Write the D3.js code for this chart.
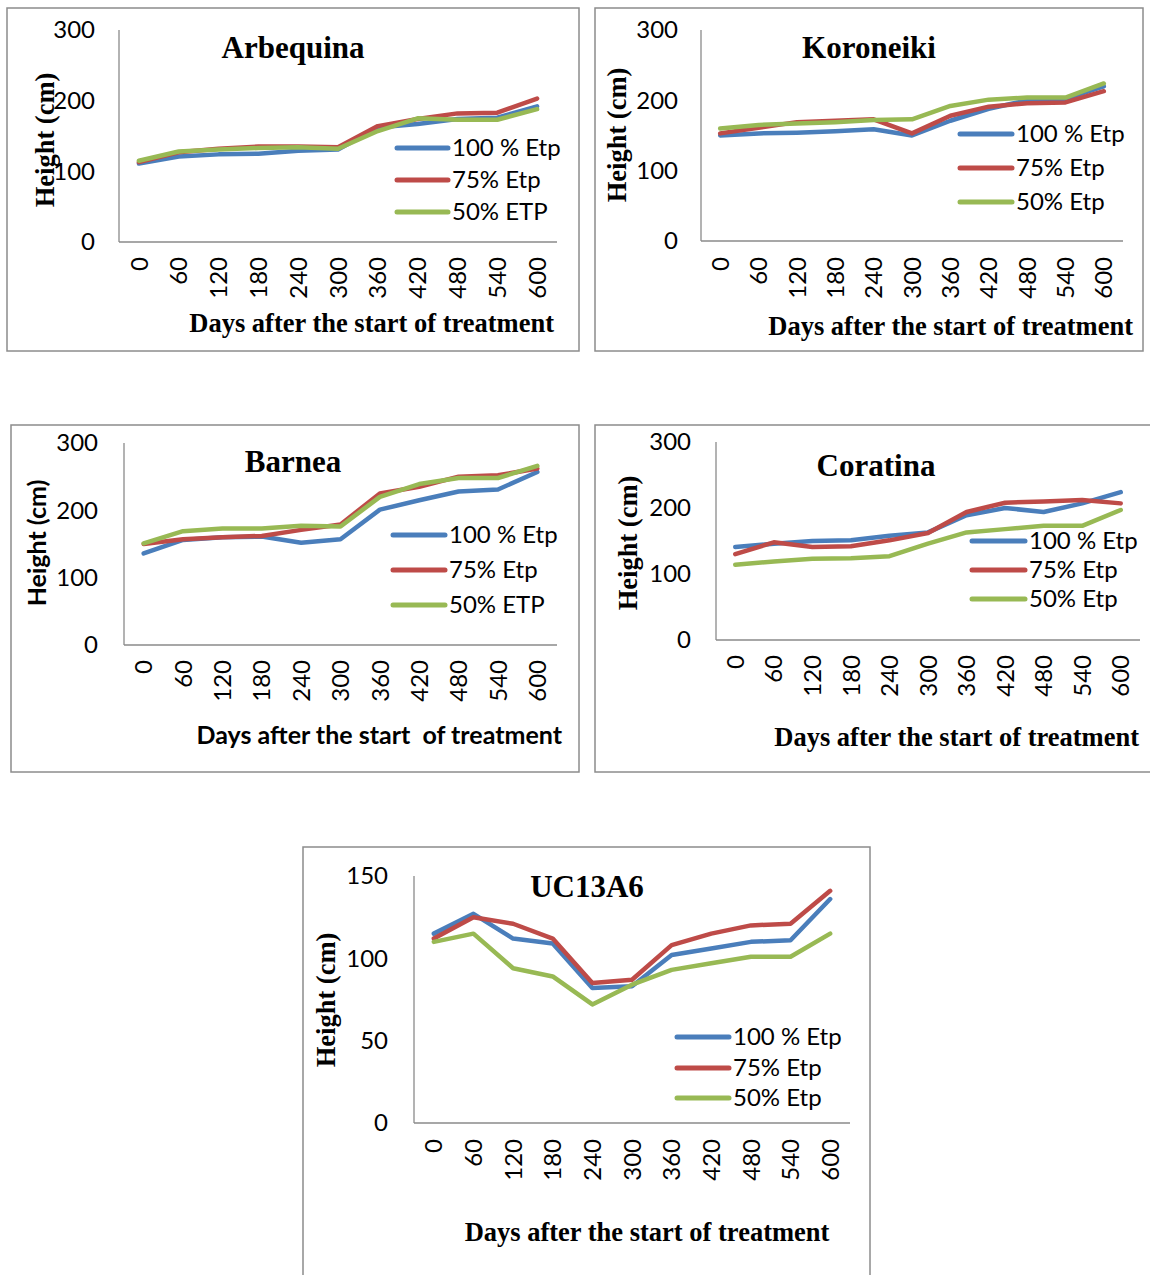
<!DOCTYPE html>
<html><head><meta charset="utf-8">
<script src="https://cdn.jsdelivr.net/npm/d3@7"></script>
<style>
html,body{margin:0;padding:0;background:#fff;}
svg{display:block;}
</style>
</head><body>
<svg id="c" width="1150" height="1275"></svg>
<script>
// ---- DATA ----
const days = ["0","60","120","180","240","300","360","420","480","540","600"];
const seriesColors = ["#4A7EBB", "#BE4B48", "#98B954"];

const arbequinaNames = ["100 % Etp", "75% Etp", "50% ETP"];
const arbequina100 = [111, 121, 124, 125, 129, 131, 162, 167, 174, 176, 192];
const arbequina75  = [113, 127, 132, 135, 135, 134, 164, 174, 182, 183, 203];
const arbequina50  = [115, 128, 131, 133, 134, 132, 157, 175, 173, 173, 188];

const koroneikiNames = ["100 % Etp", "75% Etp", "50% Etp"];
const koroneiki100 = [150, 153, 154, 156, 159, 150, 171, 188, 200, 202, 220];
const koroneiki75  = [153, 161, 169, 171, 173, 153, 178, 191, 196, 197, 213];
const koroneiki50  = [160, 165, 167, 169, 172, 173, 192, 201, 204, 204, 224];

const barneaNames = ["100 % Etp", "75% Etp", "50% ETP"];
const barnea100 = [136, 156, 160, 161, 152, 157, 201, 215, 228, 231, 257];
const barnea75  = [150, 157, 160, 162, 171, 179, 225, 235, 250, 252, 262];
const barnea50  = [151, 169, 173, 173, 177, 176, 220, 239, 248, 248, 266];

const coratinaNames = ["100 % Etp", "75% Etp", "50% Etp"];
const coratina100 = [141, 146, 150, 151, 158, 163, 189, 200, 194, 207, 224];
const coratina75  = [130, 148, 141, 142, 151, 162, 194, 208, 210, 212, 207];
const coratina50  = [114, 119, 123, 124, 127, 146, 163, 168, 173, 173, 197];

const ucNames = ["100 % Etp", "75% Etp", "50% Etp"];
const uc100 = [115, 127, 112, 109, 82, 83, 102, 106, 110, 111, 136];
const uc75  = [112, 125, 121, 112, 85, 87, 108, 115, 120, 121, 141];
const uc50  = [110, 115, 94, 89, 72, 84, 93, 97, 101, 101, 115];

const ticks300 = [0, 100, 200, 300];
const ticks150 = [0, 50, 100, 150];

// ---- DRAW ----
const svg = d3.select("#c");
const SERIF = "'Liberation Serif','Times New Roman',serif";
const SANS = "Lato, 'Open Sans', sans-serif";

function panel(cfg) {
  const g = svg.append("g");
  g.append("rect").attr("x", cfg.frame[0]).attr("y", cfg.frame[1])
    .attr("width", cfg.frame[2]).attr("height", cfg.frame[3])
    .attr("fill", "none").attr("stroke", "#8c8c8c").attr("stroke-width", 1.5);

  const x = d3.scaleBand().domain(days).range([cfg.px0, cfg.px1]);
  const y = d3.scaleLinear().domain([0, cfg.ymax]).range([cfg.pyBot, cfg.pyTop]);

  // y axis
  const ya = g.append("g").attr("transform", `translate(${cfg.px0},0)`)
    .call(d3.axisLeft(y).tickValues(cfg.ticks).tickSize(0).tickPadding(cfg.yPad));
  ya.select(".domain").attr("stroke", "#8a8a8a").attr("stroke-width", 1.3)
    .attr("d", `M0,${cfg.pyTop}V${cfg.pyBot}`);
  ya.selectAll("text").attr("font-family", SANS).attr("font-size", 24).attr("fill", "#000");

  // x axis
  const xa = g.append("g").attr("transform", `translate(0,${cfg.pyBot})`)
    .call(d3.axisBottom(x).tickSize(0));
  xa.select(".domain").attr("stroke", "#8a8a8a").attr("stroke-width", 1.3)
    .attr("d", `M${cfg.px0},0H${cfg.px1}`);
  xa.selectAll("text").attr("font-family", SANS).attr("font-size", 24).attr("fill", "#000")
    .attr("transform", "rotate(-90)").attr("text-anchor", "end")
    .attr("x", -cfg.xPad).attr("y", 0).attr("dy", "0.36em");

  // lines
  const line = d3.line().x((d, i) => x(days[i]) + x.bandwidth() / 2).y(d => y(d));
  cfg.series.forEach((s, i) => {
    g.append("path").datum(s).attr("d", line).attr("fill", "none")
      .attr("stroke", seriesColors[i]).attr("stroke-width", 4.5)
      .attr("stroke-linejoin", "round").attr("stroke-linecap", "round");
  });

  // title
  g.append("text").attr("x", cfg.title[1]).attr("y", cfg.title[2])
    .attr("text-anchor", "middle").attr("font-family", SERIF).attr("font-weight", "bold")
    .attr("font-size", 31).text(cfg.title[0]);

  // legend
  cfg.names.forEach((n, i) => {
    const ly = cfg.legY[i];
    g.append("line").attr("x1", cfg.legX[0]).attr("x2", cfg.legX[1])
      .attr("y1", ly).attr("y2", ly).attr("stroke", seriesColors[i])
      .attr("stroke-width", 5).attr("stroke-linecap", "round");
    g.append("text").attr("x", cfg.legX[1] + 4).attr("y", ly).attr("dy", "0.35em")
      .attr("font-family", SANS).attr("font-size", 24).text(n);
  });

  // x label
  g.append("text").attr("x", cfg.xl[0]).attr("y", cfg.xl[1])
    .attr("text-anchor", cfg.xl[2]).attr("font-family", cfg.sansLabels ? SANS : SERIF)
    .attr("font-weight", "bold").attr("font-size", cfg.sansLabels ? 25 : 26.5)
    .style("white-space", "pre").text(cfg.xlabel);

  // y label
  g.append("text").attr("transform", `translate(${cfg.yl[0]},${cfg.yl[1]}) rotate(-90)`)
    .attr("text-anchor", "middle").attr("dy", "0.35em")
    .attr("font-family", cfg.sansLabels ? SANS : SERIF)
    .attr("font-weight", "bold").attr("font-size", cfg.sansLabels ? 25 : 26.5)
    .text("Height (cm)");
}

const XL = "Days after the start of treatment";

panel({
  frame: [7, 8, 572, 343], px0: 119, px1: 557, pyTop: 30, pyBot: 242, ymax: 300, ticks: ticks300,
  yPad: 24, xPad: 15,
  series: [arbequina100, arbequina75, arbequina50], names: arbequinaNames,
  title: ["Arbequina", 293, 58], legX: [397, 448], legY: [148, 180, 212],
  xl: [554, 332, "end"], xlabel: XL, yl: [45, 140]
});
panel({
  frame: [595, 8, 548, 343], px0: 701, px1: 1123, pyTop: 30, pyBot: 241, ymax: 300, ticks: ticks300,
  yPad: 23, xPad: 16,
  series: [koroneiki100, koroneiki75, koroneiki50], names: koroneikiNames,
  title: ["Koroneiki", 869, 58], legX: [960, 1012], legY: [134, 168, 202],
  xl: [1133, 335, "end"], xlabel: XL, yl: [617, 135]
});
panel({
  frame: [11, 425, 568, 347], px0: 124, px1: 557, pyTop: 443, pyBot: 645, ymax: 300, ticks: ticks300,
  yPad: 26, xPad: 15,
  series: [barnea100, barnea75, barnea50], names: barneaNames,
  title: ["Barnea", 293, 472], legX: [393, 445], legY: [535, 570, 605],
  xl: [562, 744, "end"], xlabel: "Days after the start  of treatment", yl: [37, 543], sansLabels: true
});
panel({
  frame: [595, 425, 570, 347], px0: 716, px1: 1140, pyTop: 442, pyBot: 640, ymax: 300, ticks: ticks300,
  yPad: 25, xPad: 15,
  series: [coratina100, coratina75, coratina50], names: coratinaNames,
  title: ["Coratina", 876, 476], legX: [972, 1025], legY: [541, 570, 599],
  xl: [1139, 746, "end"], xlabel: XL, yl: [628, 543]
});
panel({
  frame: [303, 847, 567, 450], px0: 414, px1: 850, pyTop: 876, pyBot: 1123, ymax: 150, ticks: ticks150,
  yPad: 26, xPad: 16,
  series: [uc100, uc75, uc50], names: ucNames,
  title: ["UC13A6", 587, 897], legX: [677, 729], legY: [1037, 1068, 1098],
  xl: [647, 1241, "middle"], xlabel: XL, yl: [326, 1000]
});
</script>
</body></html>
